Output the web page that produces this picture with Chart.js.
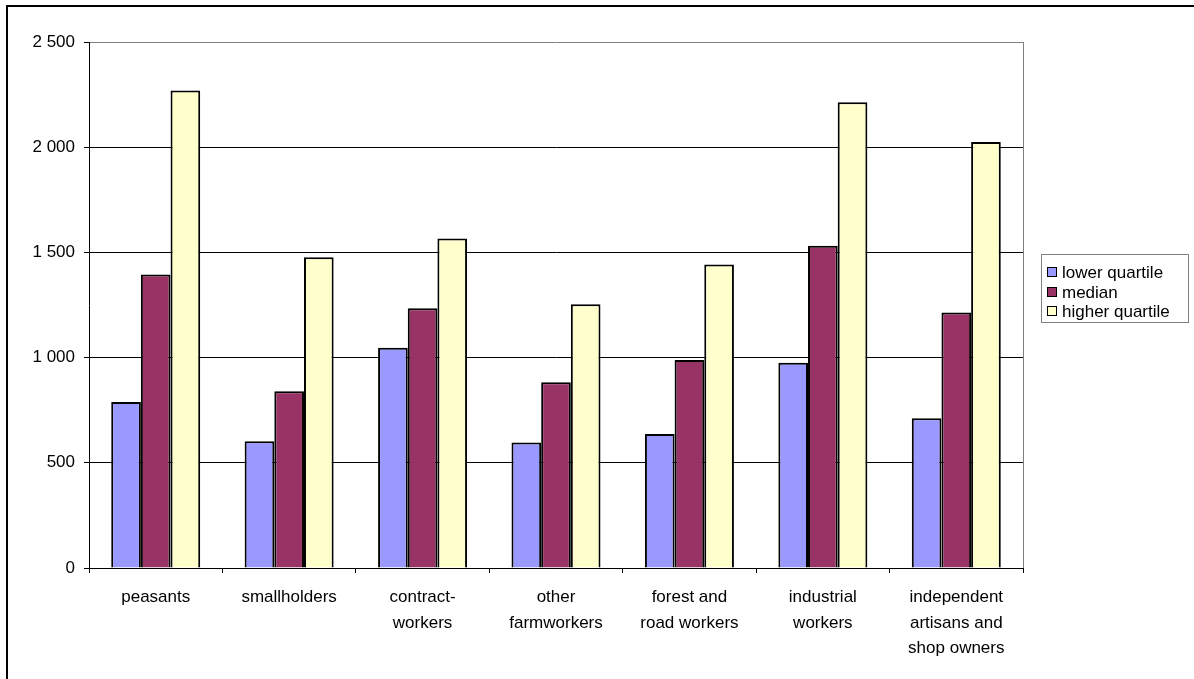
<!DOCTYPE html>
<html><head><meta charset="utf-8">
<script src="https://cdn.jsdelivr.net/npm/chart.js@4"></script>
<style>html,body{margin:0;padding:0;background:#fff;overflow:hidden}</style>
</head><body>
<canvas id="c" width="1194" height="679"></canvas>
<script>
const categories = [
  ['peasants'],
  ['smallholders'],
  ['contract-', 'workers'],
  ['other', 'farmworkers'],
  ['forest and', 'road workers'],
  ['industrial', 'workers'],
  ['independent', 'artisans and', 'shop owners']
];
const seriesNames = ['lower quartile', 'median', 'higher quartile'];
const lowerQuartile = [789, 602, 1047, 596, 637, 975, 712];
const medianValues = [1395, 840, 1235, 883, 989, 1532, 1214];
const higherQuartile = [2269, 1477, 1566, 1254, 1443, 2214, 2025];
const yTickLabels = ['0', '500', '1 000', '1 500', '2 000', '2 500'];
const seriesColors = ['#9999FF', '#993366', '#FFFFCC'];

const FONT = '"Liberation Sans", Arial, sans-serif';
const FSIZE = 17;

const framePlugin = {
  id: 'frame',
  afterDraw(chart) {
    const ctx = chart.ctx, a = chart.chartArea;
    ctx.save();
    // plot area right border (grey)
    ctx.strokeStyle = '#808080';
    ctx.lineWidth = 1;
    const rx = Math.round(a.right) + 0.5;
    ctx.beginPath(); ctx.moveTo(rx, a.top); ctx.lineTo(rx, a.bottom); ctx.stroke();
    // legend
    const L = {x: 1041.5, y: 254.5, w: 147, h: 68, rows: [272, 292, 311], boxX: 1047, textX: 1062, box: 10};
    ctx.strokeStyle = '#808080';
    ctx.strokeRect(L.x, L.y, L.w, L.h);
    ctx.font = FSIZE + 'px ' + FONT;
    ctx.textBaseline = 'middle';
    ctx.textAlign = 'left';
    chart.data.datasets.forEach((ds, i) => {
      const y = L.rows[i];
      ctx.fillStyle = ds.backgroundColor;
      ctx.fillRect(L.boxX, y - L.box / 2, L.box, L.box);
      ctx.strokeStyle = '#000';
      ctx.lineWidth = 1;
      ctx.strokeRect(L.boxX + 0.5, y - L.box / 2 + 0.5, L.box - 1, L.box - 1);
      ctx.fillStyle = '#000';
      ctx.fillText(ds.label, L.textX, y + 1);
    });
    // outer chart border
    ctx.strokeStyle = '#000';
    ctx.lineWidth = 2;
    ctx.strokeRect(7, 6, 3000, 3000);
    ctx.restore();
  }
};

new Chart(document.getElementById('c'), {
  type: 'bar',
  data: {
    labels: categories,
    datasets: [
      {label: seriesNames[0], data: lowerQuartile, backgroundColor: seriesColors[0]},
      {label: seriesNames[1], data: medianValues, backgroundColor: seriesColors[1]},
      {label: seriesNames[2], data: higherQuartile, backgroundColor: seriesColors[2]}
    ].map(d => Object.assign(d, {borderColor: '#000', borderWidth: 2, categoryPercentage: 0.667, barPercentage: 1}))
  },
  options: {
    responsive: false,
    animation: false,
    layout: {padding: {left: 0, top: 42, right: 171, bottom: 0}},
    plugins: {legend: {display: false}, tooltip: {enabled: false}},
    scales: {
      x: {
        offset: true,
        grid: {offset: true, drawOnChartArea: false, drawTicks: true, tickLength: 5, color: '#000'},
        border: {color: '#000', width: 1},
        ticks: {color: '#000', font: {family: FONT, size: FSIZE, lineHeight: 1.5}, padding: 12, maxRotation: 0, autoSkip: false},
        afterFit(scale) { scale.height = 111; }
      },
      y: {
        min: 0, max: 2500,
        ticks: {
          stepSize: 500, color: '#000', padding: 9,
          font: {family: FONT, size: FSIZE},
          callback: (v, i) => yTickLabels[i]
        },
        grid: {
          color: c => (c.tick && c.tick.value === 2500) ? '#808080' : '#000',
          tickColor: '#000', tickLength: 5, lineWidth: 1
        },
        border: {color: '#000', width: 1},
        afterFit(scale) { scale.width = 89; }
      }
    }
  },
  plugins: [framePlugin]
});
</script>
</body></html>
